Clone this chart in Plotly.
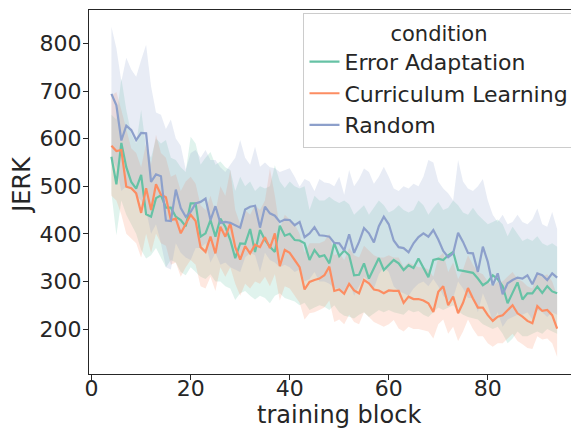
import plotly.graph_objects as go

blocks = list(range(4, 95))

conditions = ["Error Adaptation", "Curriculum Learning", "Random"]
colors = ["#66c2a5", "#fc8d62", "#8da0cb"]
fills = ["rgba(102,194,165,0.2)", "rgba(252,141,98,0.2)", "rgba(141,160,203,0.2)"]

ea_mean = [562, 504, 591, 540, 509, 495, 524, 441, 436, 475,
           481, 455, 455, 436, 429, 416, 464, 464, 394, 401,
           429, 394, 432, 415, 387, 349, 380, 379, 410, 362,
           408, 387, 373, 362, 417, 396, 400, 387, 386, 380,
           345, 366, 352, 355, 338, 380, 353, 365, 355, 313,
           314, 338, 306, 326, 349, 324, 335, 345, 338, 324,
           334, 328, 348, 328, 309, 345, 348, 345, 355, 362,
           324, 322, 320, 318, 306, 292, 299, 313, 305, 290,
           254, 276, 298, 262, 275, 275, 289, 276, 290, 279,
           275]
ea_hi = [650, 640, 727, 660, 610, 590, 660, 580, 560, 600,
         590, 597, 560, 555, 540, 530, 604, 590, 545, 560,
         572, 545, 552, 540, 534, 490, 520, 500, 510, 490,
         500, 495, 500, 544, 510, 496, 510, 500, 495, 500,
         450, 480, 470, 470, 478, 470, 465, 470, 462, 440,
         450, 460, 440, 455, 470, 460, 445, 450, 460, 450,
         445, 450, 470, 460, 440, 455, 467, 450, 455, 470,
         460, 445, 440, 455, 440, 430, 420, 425, 430, 420,
         395, 415, 400, 385, 390, 385, 395, 380, 375, 380,
         373]
ea_lo = [485, 397, 470, 440, 420, 400, 366, 348, 355, 370,
         350, 330, 345, 340, 320, 313, 330, 320, 310, 305,
         315, 300, 300, 290, 285, 261, 275, 280, 270, 262,
         270, 265, 254, 270, 275, 265, 262, 258, 250, 255,
         240, 245, 250, 247, 240, 250, 235, 228, 226, 222,
         230, 235, 225, 232, 240, 235, 240, 235, 232, 230,
         240, 235, 238, 230, 225, 235, 245, 240, 245, 250,
         238, 230, 225, 222, 220, 210, 205, 200, 205, 190,
         170, 180, 195, 185, 185, 190, 195, 190, 200, 195,
         190]

cl_mean = [585, 574, 576, 499, 496, 485, 444, 496, 450, 504,
           482, 477, 429, 432, 401, 422, 440, 427, 372, 362,
           394, 359, 415, 394, 422, 372, 346, 374, 359, 377,
           372, 393, 370, 401, 332, 366, 360, 345, 330, 283,
           299, 303, 306, 313, 331, 280, 283, 274, 295, 281,
           275, 303, 296, 283, 281, 275, 281, 280, 280, 255,
           268, 263, 263, 260, 254, 236, 278, 290, 250, 268,
           233, 255, 286, 264, 245, 245, 229, 217, 226, 229,
           240, 250, 233, 226, 217, 212, 248, 238, 240, 229,
           201]
cl_hi = [690, 698, 660, 620, 580, 570, 540, 590, 545, 608,
         570, 560, 520, 525, 490, 510, 520, 505, 460, 450,
         480, 445, 500, 480, 534, 450, 420, 450, 440, 460,
         450, 470, 537, 480, 410, 440, 430, 420, 400, 360,
         380, 380, 380, 385, 400, 355, 360, 345, 370, 355,
         350, 375, 365, 355, 350, 350, 355, 350, 350, 330,
         340, 335, 330, 330, 325, 310, 350, 360, 320, 340,
         305, 325, 355, 335, 320, 315, 300, 290, 300, 300,
         310, 320, 305, 300, 290, 285, 320, 310, 315, 300,
         270]
cl_lo = [480, 470, 440, 400, 390, 380, 350, 400, 360, 400,
         380, 375, 335, 340, 310, 330, 345, 335, 290, 285,
         310, 280, 330, 310, 330, 295, 270, 295, 285, 300,
         295, 310, 290, 315, 260, 290, 285, 270, 255, 220,
         233, 235, 240, 245, 260, 215, 220, 210, 230, 215,
         210, 235, 225, 215, 210, 205, 210, 219, 201, 195,
         205, 200, 200, 198, 195, 180, 210, 220, 190, 205,
         175, 195, 220, 200, 185, 185, 170, 163, 170, 170,
         180, 190, 175, 168, 160, 158, 185, 178, 180, 170,
         142]

rd_mean = [694, 670, 596, 627, 618, 597, 612, 611, 509, 525,
           521, 428, 427, 493, 454, 436, 446, 464, 467, 474,
           429, 458, 423, 425, 423, 418, 413, 451, 457, 459,
           413, 457, 443, 438, 425, 430, 429, 418, 425, 393,
           401, 414, 397, 396, 394, 381, 380, 365, 399, 360,
           383, 412, 401, 382, 416, 436, 420, 386, 372, 370,
           361, 380, 393, 401, 394, 408, 388, 364, 351, 359,
           402, 383, 360, 359, 320, 373, 341, 292, 317, 273,
           296, 303, 308, 306, 313, 294, 317, 313, 303, 317,
           308]
rd_hi = [835, 790, 720, 770, 745, 730, 765, 797, 710, 655,
         650, 620, 640, 600, 585, 535, 570, 576, 560, 576,
         555, 555, 540, 530, 545, 560, 597, 560, 545, 583,
         541, 550, 540, 538, 530, 534, 538, 520, 499, 515,
         510, 490, 515, 508, 506, 500, 520, 482, 534, 500,
         515, 537, 530, 505, 520, 541, 520, 495, 490, 500,
         495, 505, 500, 520, 555, 550, 510, 495, 485, 470,
         555, 510, 495, 490, 500, 515, 470, 440, 425, 440,
         420, 425, 440, 425, 420, 430, 453, 420, 415, 446,
         410]
rd_lo = [560, 540, 490, 500, 495, 480, 470, 450, 400, 420,
         380, 330, 325, 380, 360, 350, 345, 370, 370, 380,
         340, 360, 335, 340, 330, 325, 320, 350, 360, 355,
         320, 360, 345, 340, 330, 335, 330, 320, 325, 300,
         305, 320, 300, 300, 295, 285, 285, 275, 300, 270,
         290, 310, 300, 285, 315, 330, 320, 290, 280, 275,
         270, 285, 295, 300, 290, 305, 290, 270, 260, 265,
         300, 285, 265, 265, 235, 275, 250, 215, 235, 205,
         220, 225, 230, 230, 235, 220, 240, 235, 225, 235,
         230]

x_ticks = [0, 20, 40, 60, 80]
y_ticks = [200, 300, 400, 500, 600, 700, 800]
x_title = "training block"
y_title = "JERK"
legend_title = "condition"

means = [ea_mean, cl_mean, rd_mean]
his = [ea_hi, cl_hi, rd_hi]
los = [ea_lo, cl_lo, rd_lo]

fig = go.Figure()
for name, hi, lo, fc in zip(conditions, his, los, fills):
    fig.add_trace(go.Scatter(
        x=blocks + blocks[::-1], y=hi + lo[::-1],
        fill="toself", fillcolor=fc, line=dict(width=0),
        mode="lines", showlegend=False, hoverinfo="skip", name=name + " CI"))
for name, m, c in zip(conditions, means, colors):
    fig.add_trace(go.Scatter(x=blocks, y=m, mode="lines", name=name,
                             line=dict(color=c, width=2.2)))

font = "DejaVu Sans, sans-serif"
ink = "#262626"
fig.update_layout(
    width=571, height=431,
    margin=dict(l=89, r=0, t=10, b=57, autoexpand=False),
    plot_bgcolor="white", paper_bgcolor="white",
    font=dict(family=font, size=22, color=ink),
    showlegend=True,
    legend=dict(
        x=0.445, y=0.993, xanchor="left", yanchor="top",
        bgcolor="rgba(255,255,255,0.8)", bordercolor="#cccccc", borderwidth=1,
        font=dict(family=font, size=22, color=ink),
        title=dict(text=legend_title, side="top center",
                   font=dict(family=font, size=21, color=ink)),
        tracegroupgap=0, itemwidth=30,
    ),
    xaxis=dict(
        range=[-0.53, 96.8], tickmode="array", tickvals=x_ticks,
        showgrid=False, zeroline=False, showline=True, linecolor=ink,
        linewidth=1.2, mirror=True, ticks="outside", ticklen=5, tickcolor=ink,
        tickfont=dict(size=22), automargin=False, ticklabelstandoff=-11,
    ),
    yaxis=dict(
        range=[105.5, 870.2], tickmode="array", tickvals=y_ticks,
        showgrid=False, zeroline=False, showline=True, linecolor=ink,
        linewidth=1.2, ticks="outside", ticklen=5, tickcolor=ink,
        tickfont=dict(size=22), automargin=False, ticklabelstandoff=-3,
    ),
    annotations=[
        dict(text=x_title, xref="paper", yref="paper", x=0.519, y=-0.114,
             xanchor="center", yanchor="middle", showarrow=False,
             font=dict(family=font, size=24, color=ink)),
        dict(text=y_title, xref="paper", yref="paper", x=-0.139, y=0.52,
             xanchor="center", yanchor="middle", showarrow=False, textangle=-90,
             font=dict(family=font, size=24, color=ink)),
    ],
)
fig.write_html("out.html", config={"displayModeBar": False},
               post_script="document.body.style.margin='0px';")
